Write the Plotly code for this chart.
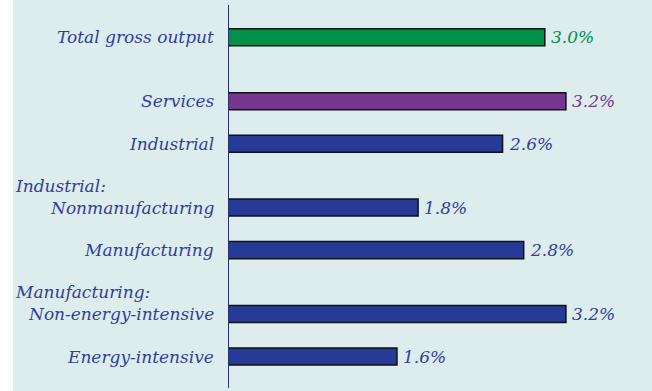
import plotly.graph_objects as go

# Average annual growth in output, by sector
categories = ["Total gross output", "Services", "Industrial", "Nonmanufacturing",
              "Manufacturing", "Non-energy-intensive", "Energy-intensive"]
group_headers = ["", "", "", "Industrial:", "", "Manufacturing:", ""]
growth = [3.0, 3.2, 2.6, 1.8, 2.8, 3.2, 1.6]
value_labels = ["3.0%", "3.2%", "2.6%", "1.8%", "2.8%", "3.2%", "1.6%"]
positions = [0, 1.5, 2.5, 4, 5, 6.5, 7.5]

GREEN = "#00914a"
PURPLE = "#76368f"
BLUE = "#263b97"
TEXT_BLUE = "#2f3f9c"
BG = "#ddeced"
bar_colors = [GREEN, PURPLE] + [BLUE] * 5
label_colors = [GREEN, PURPLE] + [TEXT_BLUE] * 5

W, H = 652, 391
L = 228
FONT = "DejaVu Serif"
FS = 17

fig = go.Figure()
fig.add_trace(go.Bar(
    x=growth, y=positions, orientation="h", width=0.4,
    marker=dict(color=bar_colors, line=dict(color="#111111", width=1.5)),
    hoverinfo="skip",
))

annotations = []
for cat, hdr, pos, val, txt, col in zip(categories, group_headers, positions,
                                        growth, value_labels, label_colors):
    annotations.append(dict(
        x=-12 / (W - L), xref="paper", y=pos, yref="y",
        text=f"<i>{cat}</i>", showarrow=False, xanchor="right", yanchor="middle",
        font=dict(family=FONT, size=FS, color=TEXT_BLUE),
    ))
    if hdr:
        annotations.append(dict(
            x=(13 - L) / (W - L), xref="paper", y=pos - 0.51, yref="y",
            text=f"<i>{hdr}</i>", showarrow=False, xanchor="left", yanchor="middle",
            font=dict(family=FONT, size=FS, color=TEXT_BLUE),
        ))
    annotations.append(dict(
        x=val, xref="x", y=pos, yref="y", xshift=4,
        text=f"<i>{txt}</i>", showarrow=False, xanchor="left", yanchor="middle",
        font=dict(family=FONT, size=FS, color=col),
    ))

fig.update_layout(
    width=W, height=H,
    margin=dict(l=L, r=0, t=5, b=3),
    paper_bgcolor=BG, plot_bgcolor=BG,
    showlegend=False,
    xaxis=dict(range=[0, (W - L) / 105.6], visible=False, fixedrange=True),
    yaxis=dict(range=[8.24, -0.76], visible=False, fixedrange=True),
    annotations=annotations,
    shapes=[
        # white margin strip down the left edge
        dict(type="rect", xref="paper", yref="paper",
             x0=-L / (W - L), x1=(13 - L) / (W - L), y0=-0.1, y1=1.1,
             fillcolor="white", line=dict(width=0), layer="below"),
        # vertical baseline
        dict(type="line", xref="x", yref="paper", x0=0, x1=0, y0=0, y1=1,
             line=dict(color="#27336e", width=2)),
    ],
)

fig.write_html("out.html")
